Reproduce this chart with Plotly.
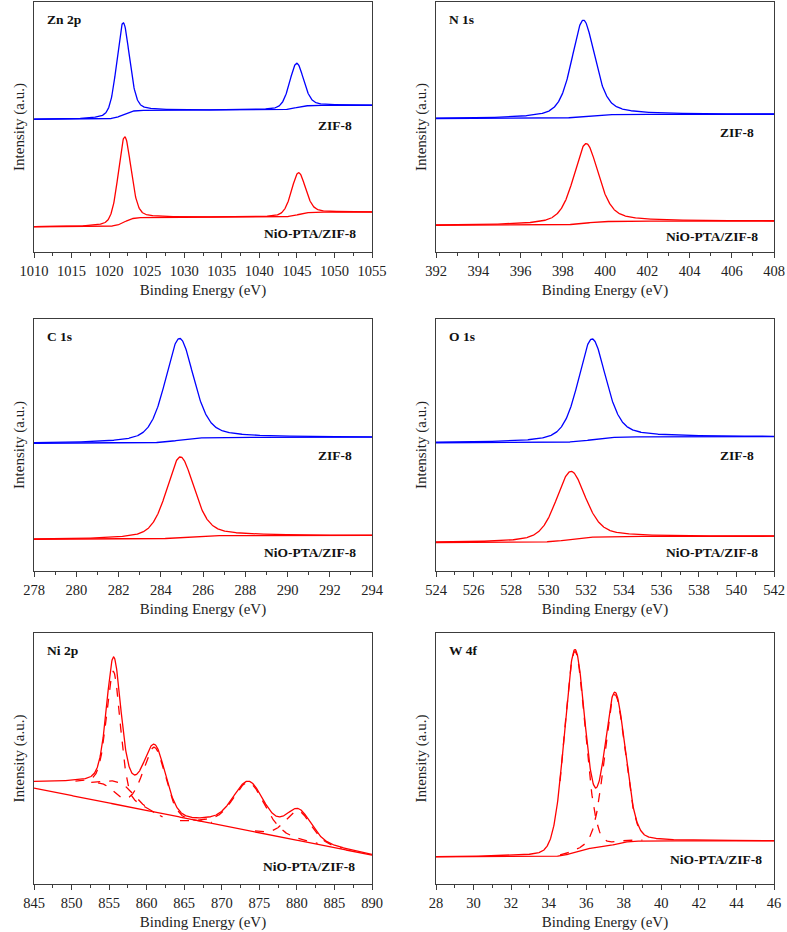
import numpy as np
import plotly.graph_objects as go

# ---- values (peak centre eV, height a.u., FWHM eV) ----
# Zn 2p
zn_range = [1010, 1055]
zn_zif_pos = [1021.85, 1044.95]
zn_zif_height = [36.7, 17.7]
zn_zif_fwhm = [2.0, 2.2]
zn_zif_bg = [53.1, 58.7]
zn_nio_pos = [1022.05, 1045.2]
zn_nio_height = [34.0, 16.7]
zn_nio_fwhm = [2.0, 2.2]
zn_nio_bg = [10.1, 16.0]

# N 1s
n_range = [392, 408]
n_zif_pos = [398.97]
n_zif_height = [38.5]
n_zif_fwhm = [1.3]
n_zif_bg = [53.4, 55.1]
n_nio_pos = [399.1]
n_nio_height = [31.8]
n_nio_fwhm = [1.4]
n_nio_bg = [10.7, 12.4]

# C 1s
c_range = [278, 294]
c_zif_pos = [284.88]
c_zif_height = [40.4]
c_zif_fwhm = [1.6]
c_zif_bg = [50.7, 53.1]
c_nio_pos = [284.92]
c_nio_height = [31.9]
c_nio_fwhm = [1.55]
c_nio_bg = [12.6, 14.1]

# O 1s
o_range = [524, 542]
o_zif_pos = [532.3]
o_zif_height = [40.0]
o_zif_fwhm = [1.75]
o_zif_bg = [50.9, 53.3]
o_nio_pos = [531.17]
o_nio_height = [27.0]
o_nio_fwhm = [1.85]
o_nio_bg = [11.3, 13.8]

# Ni 2p (NiO-PTA/ZIF-8 only, fitted components dashed)
ni_range = [845, 890]
ni_pos = [855.6, 856.8, 861.1, 873.6, 880.2]
ni_height = [48.6, 7.0, 26.5, 19.2, 11.8]
ni_fwhm = [2.2, 3.5, 3.5, 5.0, 4.0]
ni_line = [38.2, 11.5]        # straight background line, ends of range
ni_shirley = [40.5, 868.0]    # Shirley start level and end energy

# W 4f
w_range = [28, 46]
w_pos = [35.39, 37.52]
w_height = [79.9, 59.6]
w_fwhm = [1.3, 1.3]
w_bg = [10.8, 17.2]

ZIF_COLOR = '#0000ff'
NIO_COLOR = '#ff0000'
FONT = 'Liberation Serif, Times New Roman, serif'


def pseudo_voigt(x, c, h, w, eta):
    d = (x - c) / w
    lor = 1 / (1 + 4 * d ** 2)
    gau = np.exp(-4 * np.log(2) * d ** 2)
    return h * (eta * lor + (1 - eta) * gau)


def shirley(peaks, b0, b1):
    cum = np.cumsum(peaks)
    return b0 + (b1 - b0) * cum / cum[-1]


def spectrum(x, pos, height, fwhm, bg, eta):
    comps = [pseudo_voigt(x, c, h, w, eta) for c, h, w in zip(pos, height, fwhm)]
    total = np.sum(comps, axis=0)
    base = shirley(total, bg[0], bg[1])
    return base + total, base, comps


fig = go.Figure()

col_x = [[34 / 787, 372 / 787], [436 / 787, 774 / 787]]
row_y = [[1 - 252 / 932, 1 - 2 / 932], [1 - 571 / 932, 1 - 319 / 932], [1 - 884 / 932, 1 - 633 / 932]]


def add_line(ax, x, y, color, dash='solid'):
    fig.add_trace(go.Scatter(x=x, y=y, mode='lines', xaxis='x' + ax, yaxis='y' + ax,
                             line=dict(color=color, width=1.3, dash=dash),
                             showlegend=False, hoverinfo='skip'))


def two_sample_panel(ax, rng, zif, nio, eta):
    x = np.linspace(rng[0], rng[1], 900)
    for params, color in [(zif, ZIF_COLOR), (nio, NIO_COLOR)]:
        env, base, _ = spectrum(x, *params, eta)
        add_line(ax, x, base, color)
        add_line(ax, x, env, color)


two_sample_panel('', zn_range,
                 (zn_zif_pos, zn_zif_height, zn_zif_fwhm, zn_zif_bg),
                 (zn_nio_pos, zn_nio_height, zn_nio_fwhm, zn_nio_bg), 0.3)
two_sample_panel('2', n_range,
                 (n_zif_pos, n_zif_height, n_zif_fwhm, n_zif_bg),
                 (n_nio_pos, n_nio_height, n_nio_fwhm, n_nio_bg), 0.5)
two_sample_panel('3', c_range,
                 (c_zif_pos, c_zif_height, c_zif_fwhm, c_zif_bg),
                 (c_nio_pos, c_nio_height, c_nio_fwhm, c_nio_bg), 0.45)
two_sample_panel('4', o_range,
                 (o_zif_pos, o_zif_height, o_zif_fwhm, o_zif_bg),
                 (o_nio_pos, o_nio_height, o_nio_fwhm, o_nio_bg), 0.45)

# Ni 2p: Shirley over the 2p3/2 region, straight line beyond
x = np.linspace(ni_range[0], ni_range[1], 1200)
line = ni_line[0] + (ni_line[1] - ni_line[0]) * (x - ni_range[0]) / (ni_range[1] - ni_range[0])
comps = [pseudo_voigt(x, c, h, w, 0.3) for c, h, w in zip(ni_pos, ni_height, ni_fwhm)]
low = x <= ni_shirley[1]
area = np.cumsum(np.sum(comps[:3], axis=0) * low)
end_level = np.interp(ni_shirley[1], x, line)
base = np.where(low, ni_shirley[0] - (ni_shirley[0] - end_level) * area / area[-1], line)
add_line('5', x, line, NIO_COLOR)
for comp in comps:
    mask = (x >= 850.5) & (comp > 0.4)
    add_line('5', x[mask], (base + comp)[mask], NIO_COLOR, 'dash')
add_line('5', x, base + np.sum(comps, axis=0), NIO_COLOR)

# W 4f
x = np.linspace(w_range[0], w_range[1], 900)
env, base, comps = spectrum(x, w_pos, w_height, w_fwhm, w_bg, 0.15)
add_line('6', x, base, NIO_COLOR)
for comp in comps:
    mask = (x > 34.6) & (x < 39.0)
    add_line('6', x[mask], (base + comp)[mask], NIO_COLOR, 'dash')
add_line('6', x, env, NIO_COLOR)

# ---- axes ----
panels = [
    ('', zn_range, 5, 2.5, 0, 0, 'Zn 2p'),
    ('2', n_range, 2, 1, 1, 0, 'N 1s'),
    ('3', c_range, 2, 1, 0, 1, 'C 1s'),
    ('4', o_range, 2, 1, 1, 1, 'O 1s'),
    ('5', ni_range, 5, 2.5, 0, 2, 'Ni 2p'),
    ('6', w_range, 2, 1, 1, 2, 'W 4f'),
]
axis_color = '#3c3c3c'
layout = {}
for ax, rng, dt, mdt, col, row, label in panels:
    layout['xaxis' + ax] = dict(
        domain=col_x[col], range=rng, anchor='y' + ax, automargin=False,
        showline=True, linecolor=axis_color, linewidth=1.4, mirror=True,
        ticks='outside', ticklen=5, tickwidth=1.2, tickcolor=axis_color,
        dtick=dt, tick0=rng[0], showgrid=False, zeroline=False,
        minor=dict(ticks='outside', ticklen=3, dtick=mdt, tick0=rng[0],
                   tickcolor=axis_color, tickwidth=1.2, showgrid=False),
        tickfont=dict(family=FONT, size=14.5, color='#222'),
        title=dict(text='Binding Energy (eV)', standoff=6,
                   font=dict(family=FONT, size=15, color='#222')),
    )
    layout['yaxis' + ax] = dict(
        domain=row_y[row], range=[0, 100], anchor='x' + ax, automargin=False,
        showline=True, linecolor=axis_color, linewidth=1.4, mirror=True,
        showticklabels=False, ticks='', showgrid=False, zeroline=False,
        title=dict(text='Intensity (a.u.)', standoff=4,
                   font=dict(family=FONT, size=15, color='#222')),
    )

annotations = []
def note(ax, text, x, y, anchor):
    annotations.append(dict(text='<b>' + text + '</b>', xref='x' + ax + ' domain', yref='y' + ax + ' domain',
                            x=x, y=y, xanchor=anchor, yanchor='middle', showarrow=False,
                            font=dict(family=FONT, size=13.5, color='#111')))

for ax, rng, dt, mdt, col, row, label in panels:
    note(ax, label, 0.033, 0.93, 'left')
for ax, yz, yn in [('', 0.508, 0.076), ('2', 0.479, 0.064), ('3', 0.46, 0.075), ('4', 0.46, 0.075)]:
    note(ax, 'ZIF-8', 0.946, yz, 'right')
    note(ax, 'NiO-PTA/ZIF-8', 0.96, yn, 'right')
note('5', 'NiO-PTA/ZIF-8', 0.955, 0.068, 'right')
note('6', 'NiO-PTA/ZIF-8', 0.97, 0.096, 'right')

fig.update_layout(
    width=787, height=932, margin=dict(l=0, r=0, t=0, b=0),
    paper_bgcolor='white', plot_bgcolor='white',
    annotations=annotations, **layout,
)
# the page body has a default 8px margin; drop it so the figure fills the window
fig.write_html('out.html', config={'displayModeBar': False},
               post_script="document.body.style.margin='0';")
